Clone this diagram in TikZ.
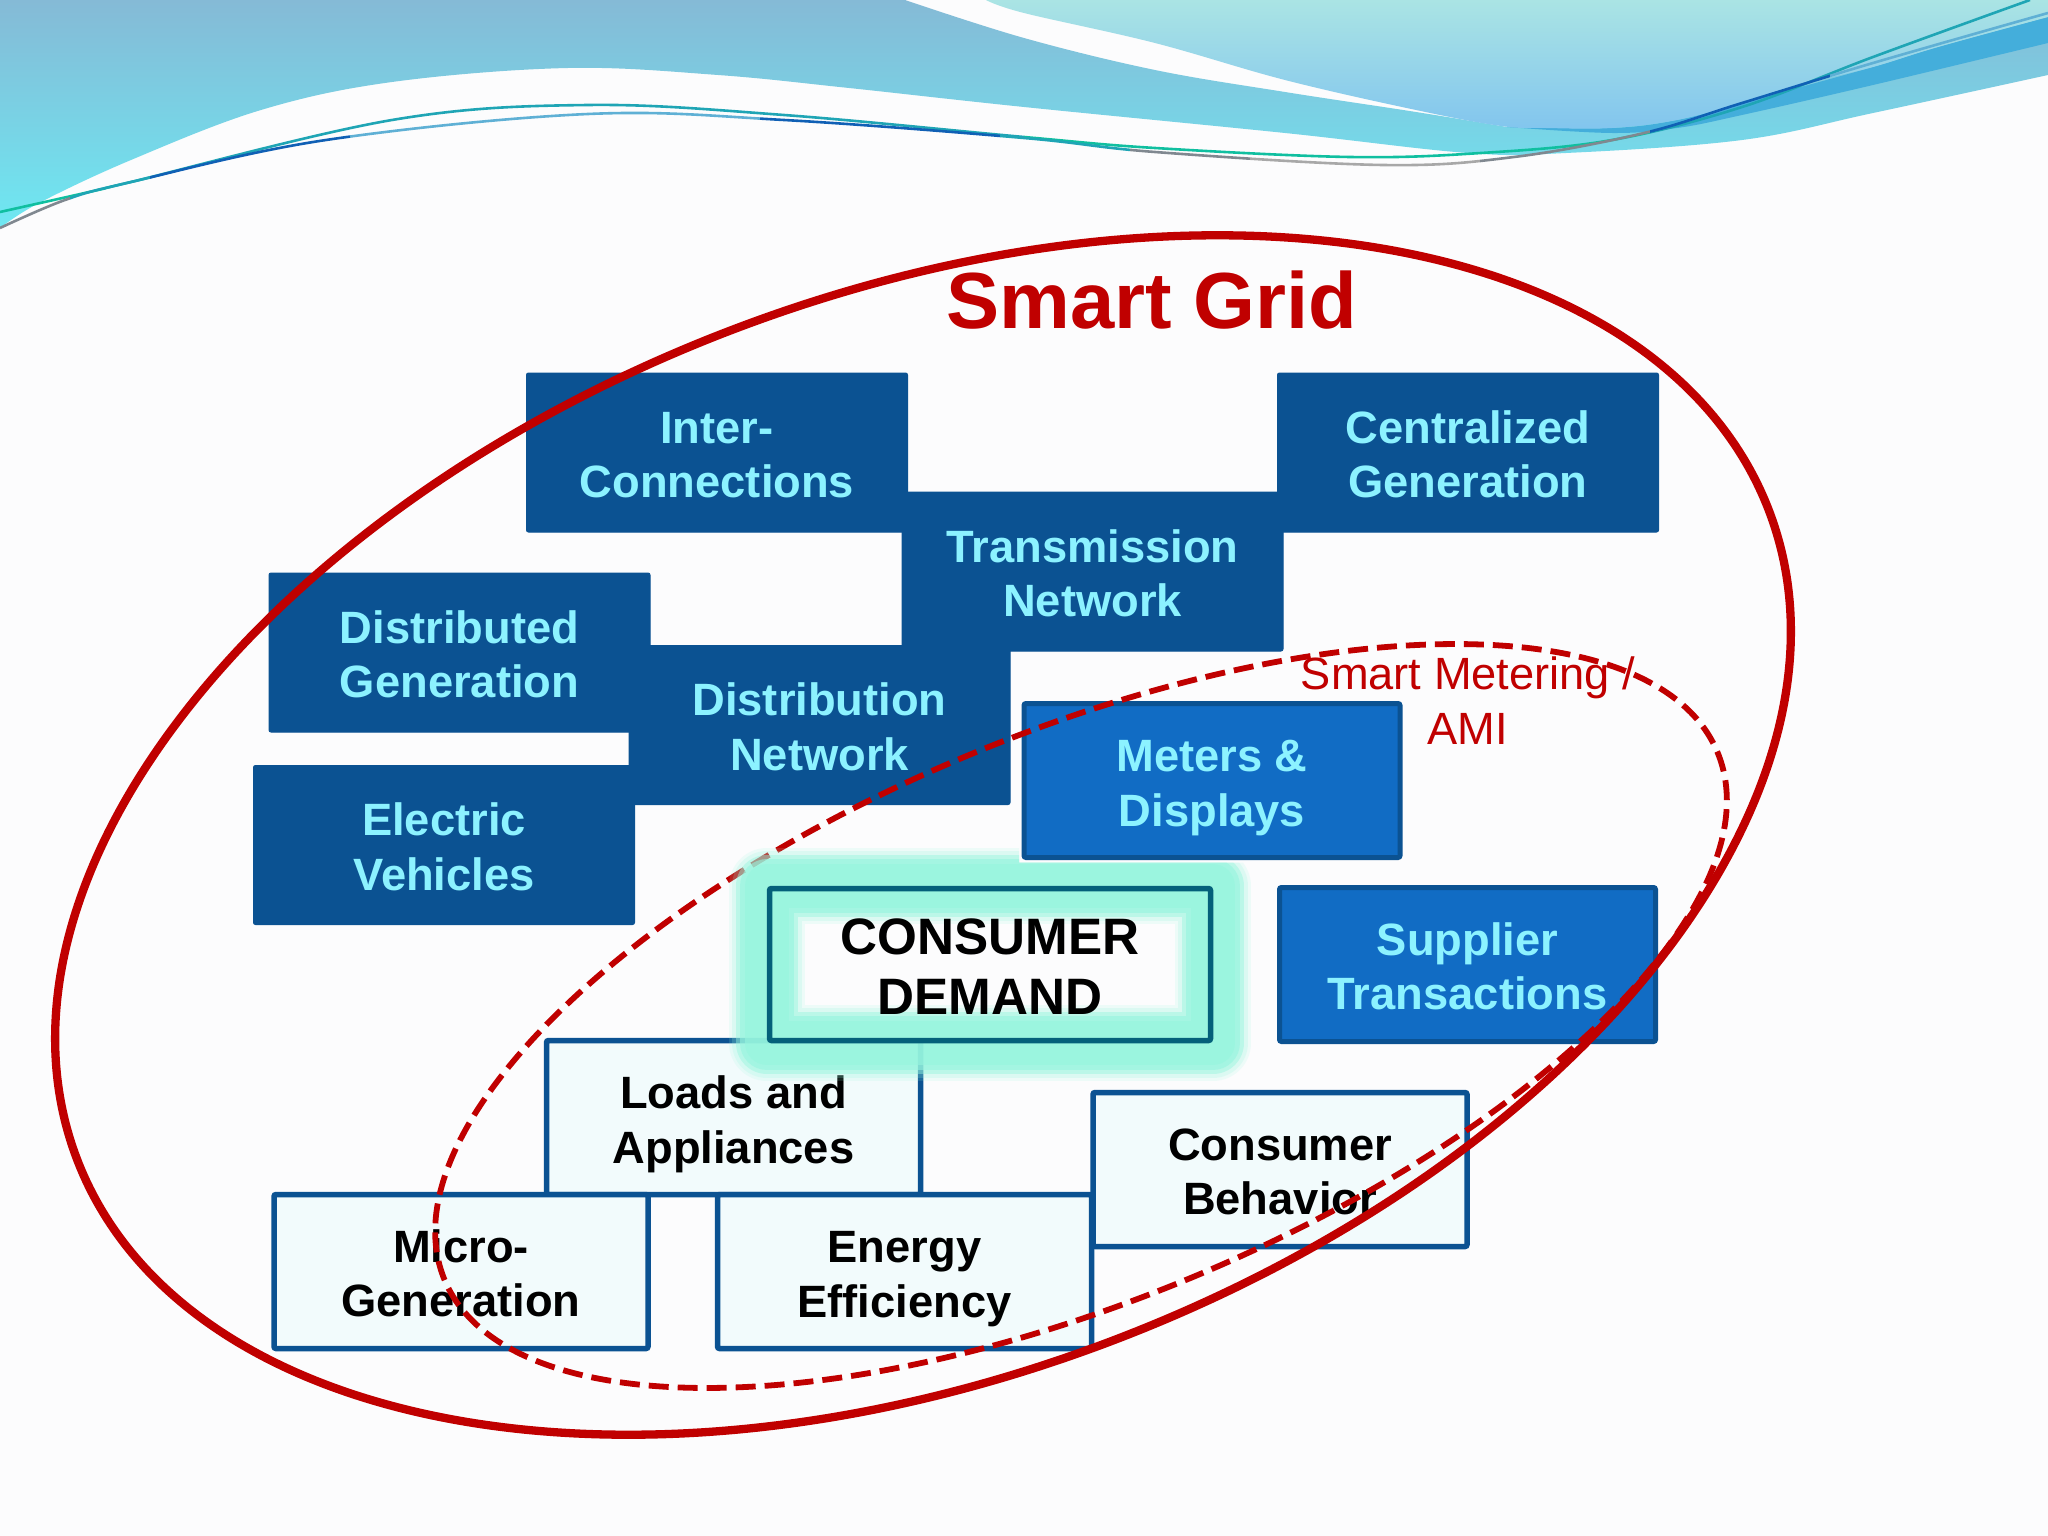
\documentclass[tikz,border=0pt]{standalone}
\usepackage{fontspec}
\setmainfont{Liberation Sans}
\definecolor{pagebg}{HTML}{FCFCFD}
\definecolor{gridred}{HTML}{C00000}
\definecolor{darkfill}{HTML}{0B5292}
\definecolor{midfill}{HTML}{116CC4}
\definecolor{lightfill}{HTML}{F2FBFC}
\definecolor{cyantext}{HTML}{8CF2FF}
\definecolor{glowc}{HTML}{96F5DE}
\definecolor{tealedge}{HTML}{04607A}
\definecolor{wgreen}{HTML}{10BFA0}
\definecolor{wteal}{HTML}{1FA5B5}
\definecolor{wsky}{HTML}{5FB0D5}
\definecolor{wblue}{HTML}{1060B5}
\definecolor{wgray}{HTML}{A8A8A8}
\definecolor{wgrayd}{HTML}{808890}
\definecolor{bandtop}{RGB}{133,186,214}
\definecolor{bandbot}{RGB}{110,232,242}
\definecolor{banddark}{RGB}{68,174,219}
\definecolor{uptop}{RGB}{170,228,228}
\definecolor{upbot}{RGB}{130,197,238}
\tikzset{
  x=1pt,y=-1pt,
  boxbase/.style={rectangle,align=center,inner sep=0pt,rounded corners=2pt,font=\fontsize{45.3}{54.6}\selectfont\bfseries},
  darkbox/.style={boxbase,fill=darkfill,draw=darkfill,line width=1pt,minimum width=381pt,minimum height=159pt,text=cyantext},
  midbox/.style={boxbase,fill=midfill,draw=darkfill,line width=5pt,minimum width=376pt,minimum height=154pt,text=cyantext},
  lightbox/.style={boxbase,fill=lightfill,draw=darkfill,line width=5.5pt,minimum width=374pt,minimum height=154pt,text=black},
  demandbox/.style={boxbase,draw=tealedge,line width=5.5pt,minimum width=441pt,minimum height=152pt,text=black,font=\fontsize{51.2}{60}\selectfont\bfseries},
  glowband/.style={draw=glowc,line join=round},
  redring/.style={draw=gridred,line width=8.3pt},
  reddash/.style={draw=gridred,line width=5.8pt,dash pattern=on 20pt off 9pt},
  wave/.style={line width=2.6pt}
}
\newcommand\topgap{\rule{0pt}{36.8pt}}
\newcommand\waveA{plot[smooth,tension=.6] coordinates{(0,212)(98,190)(131,182)(392,120)(588,105)(784,115)(1024,137)(1155,148)(1350,157)(1481,153)(1612,140)(1742,107)(1873,57)(2030,0)}}
\newcommand\waveB{plot[smooth,tension=.6] coordinates{(0,228)(65,200)(131,182)(326,140)(588,114)(784,120)(1024,138)(1155,152)(1383,165)(1514,157)(1644,133)(1742,103)(1873,63)(2048,13)}}
\begin{document}
\begin{tikzpicture}
\useasboundingbox (0,0) rectangle (2048,1536);
\fill[pagebg] (0,0) rectangle (2048,1536);
% header swooshes
\shade[top color=bandtop,bottom color=bandbot]
  (0,0) -- (905,0) -- plot[smooth,tension=.6] coordinates{(905,0)(1024,38)(1155,70)(1285,92)(1416,112)(1507,127)} -- (2048,0) -- (2048,75)
  -- plot[smooth,tension=.6] coordinates{(2048,75)(1873,113)(1742,140)(1566,153)(1468,153)(1285,133)(1024,107)(849,88)(718,75)(568,68)(392,82)(261,110)(131,160)(39,203)(0,228)} -- cycle;
\fill[banddark]
  (1507,127) -- plot[smooth,tension=.6] coordinates{(1507,127)(1612,133)(1677,128)(1742,115)(1873,85)(2048,43)} -- (2048,17)
  -- plot[smooth,tension=.6] coordinates{(2048,17)(1938,47)(1873,67)(1742,103)(1677,120)(1612,128)(1507,127)} -- cycle;
\shade[top color=uptop,bottom color=upbot]
  (986,0) -- plot[smooth,tension=.6] coordinates{(986,0)(1024,13)(1155,43)(1285,80)(1416,110)(1501,126)(1546,128)(1612,128)(1677,120)(1742,103)(1808,83)(1873,67)(1938,47)(2048,17)} -- (2048,0) -- cycle;
% thin waves
\foreach \xa/\xb/\c in {0/110/wgreen,110/1024/wteal,1024/1650/wgreen,1650/2048/wteal}{
  \begin{scope}\clip (\xa,0) rectangle (\xb,300); \draw[wave,draw=\c] \waveA; \end{scope}}
\foreach \xa/\xb/\c in {0/70/wgrayd,70/150/wteal,150/350/wblue,350/760/wsky,760/1000/wblue,1000/1130/wteal,1130/1250/wgrayd,1250/1480/wgray,1480/1650/wgrayd,1650/1830/wblue,1830/2048/wsky}{
  \begin{scope}\clip (\xa,0) rectangle (\xb,300); \draw[wave,draw=\c] \waveB; \end{scope}}
% boxes
\node[darkbox] (inter) at (717,452.5) {\topgap Inter-\\Connections};
\node[darkbox] (central) at (1468,452.5) {\topgap Centralized\\Generation};
\node[darkbox] (trans) at (1092.5,571.5) {\topgap Transmission\\Network};
\node[darkbox] (distgen) at (459.5,652.5) {\topgap Distributed\\Generation};
\node[darkbox] (distnet) at (819.5,725) {\topgap Distribution\\Network};
\node[darkbox] (electric) at (444,845) {\topgap Electric\\Vehicles};
\node[midbox] (meters) at (1212,780.5) {\topgap Meters \&\\\smash{Displays}};
\node[midbox] (supplier) at (1467.5,964.5) {\topgap Supplier\\Transactions};
\node[lightbox] (loads) at (733.5,1117.5) {\topgap Loads and\\\smash{Appliances}};
\node[lightbox] (behavior) at (1280,1169.5) {\topgap Consumer\\Behavior};
\node[lightbox] (micro) at (461,1271.5) {\topgap Micro-\\Generation};
\node[lightbox] (energy) at (904.5,1271.5) {\topgap Energy\\\smash{Efficiency}};
% rings
\draw[redring,shift={(923,835)},rotate=21] (0,0) circle[x radius=906,y radius=540];
\draw[reddash,shift={(1081,1016)},rotate=22.5] (0,0) circle[x radius=689,y radius=284];
% label text
\node[text=gridred,font=\fontsize{79.6}{90}\selectfont\bfseries,inner sep=0pt] (title) at (1152,300) {Smart Grid};
\node[text=gridred,font=\fontsize{45.2}{55}\selectfont,align=center,inner sep=0pt] (ami) at (1468,701) {Smart Metering /\\AMI};
% glow and demand box
\begin{scope}
\clip (700,840) -- (1019,840) -- (1019,862.5) -- (1300,862.5) -- (1300,1100) -- (700,1100) -- cycle;
\draw[glowband,line width=76pt,opacity=.14] (767,886) rectangle (1213,1043);
\draw[glowband,line width=70pt,opacity=.2] (767,886) rectangle (1213,1043);
\draw[glowband,line width=62pt,opacity=.45] (767,886) rectangle (1213,1043);
\draw[glowband,line width=54pt,opacity=.6] (767,886) rectangle (1213,1043);
\draw[glowband,line width=44pt,opacity=.6] (767,886) rectangle (1213,1043);
\end{scope}
\node[demandbox] (demand) at (990,964.5) {\rule{0pt}{40pt}CONSUMER\\DEMAND};
\end{tikzpicture}
\end{document}
